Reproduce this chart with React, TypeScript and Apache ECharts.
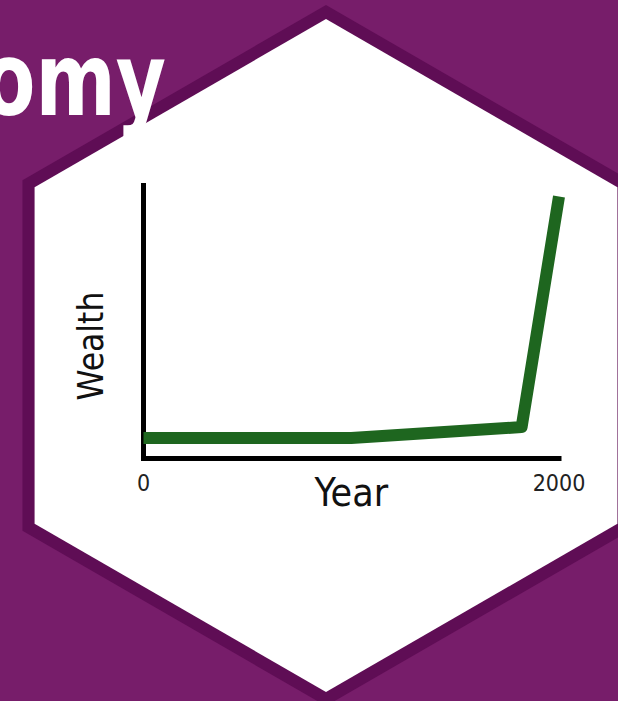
import React, { useEffect, useRef } from "react";
import * as echarts from "echarts";

const years = [0, 1000, 1820, 2000];
const wealth = [7.5, 7.5, 11.5, 96];
const xTickLabels = ["0", "2000"];
const xName = "Year";
const yName = "Wealth";
const titleText = "omy";

function hexPoints(cx: number, cy: number, r: number): number[][] {
  const pts: number[][] = [];
  for (let i = 0; i < 6; i++) {
    const a = ((-90 + 60 * i) * Math.PI) / 180;
    pts.push([cx + r * Math.cos(a), cy + r * Math.sin(a)]);
  }
  return pts;
}

export default function App() {
  const ref = useRef<HTMLDivElement>(null);
  useEffect(() => {
    if (!ref.current) return;
    const chart = echarts.init(ref.current, undefined, { renderer: "svg" });
    const font = "'DejaVu Sans Condensed', 'DejaVu Sans', sans-serif";
    chart.setOption({
      animation: false,
      backgroundColor: "#771d6a",
      grid: { left: 143.5, right: 59, top: 185.5, bottom: 242.5, containLabel: false },
      xAxis: {
        type: "value",
        min: 0,
        max: 2000,
        interval: 2000,
        z: 5,
        name: xName,
        nameLocation: "middle",
        nameGap: 14,
        nameMoveOverlap: false,
        nameTextStyle: { fontFamily: font, fontSize: 39, color: "#111" },
        axisLine: { show: true, lineStyle: { color: "#000", width: 5, cap: "square" } },
        axisTick: { show: false },
        splitLine: { show: false },
        axisLabel: {
          margin: 13,
          fontFamily: font,
          fontSize: 23,
          color: "#222",
          formatter: (v: number) => (v === 0 ? xTickLabels[0] : v === 2000 ? xTickLabels[1] : ""),
        },
      },
      yAxis: {
        type: "value",
        min: 0,
        max: 100,
        z: 5,
        axisLine: { show: true, lineStyle: { color: "#000", width: 5, cap: "square" } },
        axisTick: { show: false },
        axisLabel: { show: false },
        splitLine: { show: false },
      },
      graphic: [
        {
          type: "polygon",
          z: 2,
          shape: { points: hexPoints(326, 355.5, 350.5) },
          style: { fill: "#5f0d55" },
        },
        {
          type: "polygon",
          z: 3,
          shape: { points: hexPoints(326, 355.5, 336.5) },
          style: { fill: "#ffffff" },
        },
        {
          type: "text",
          z: 4,
          x: 166,
          y: 80,
          scaleX: 0.84,
          style: {
            text: titleText,
            fontFamily: "'Liberation Sans Narrow', 'DejaVu Sans Condensed', sans-serif",
            fontWeight: "bold",
            fontSize: 102,
            fill: "#ffffff",
            align: "right",
            verticalAlign: "middle",
          },
        },
        {
          type: "text",
          z: 4,
          x: 91,
          y: 346,
          rotation: Math.PI / 2,
          style: {
            text: yName,
            fontFamily: font,
            fontSize: 35,
            fill: "#111",
            align: "center",
            verticalAlign: "middle",
          },
        },
      ],
      series: [
        {
          type: "line",
          z: 6,
          clip: false,
          symbol: "none",
          data: years.map((y, i) => [y, wealth[i]]),
          lineStyle: { color: "#1e661f", width: 12, cap: "butt", join: "round" },
        },
      ],
    });
    return () => chart.dispose();
  }, []);
  return (
    <div
      ref={ref}
      style={{ position: "fixed", left: 0, top: 0, width: 618, height: 701 }}
    />
  );
}
